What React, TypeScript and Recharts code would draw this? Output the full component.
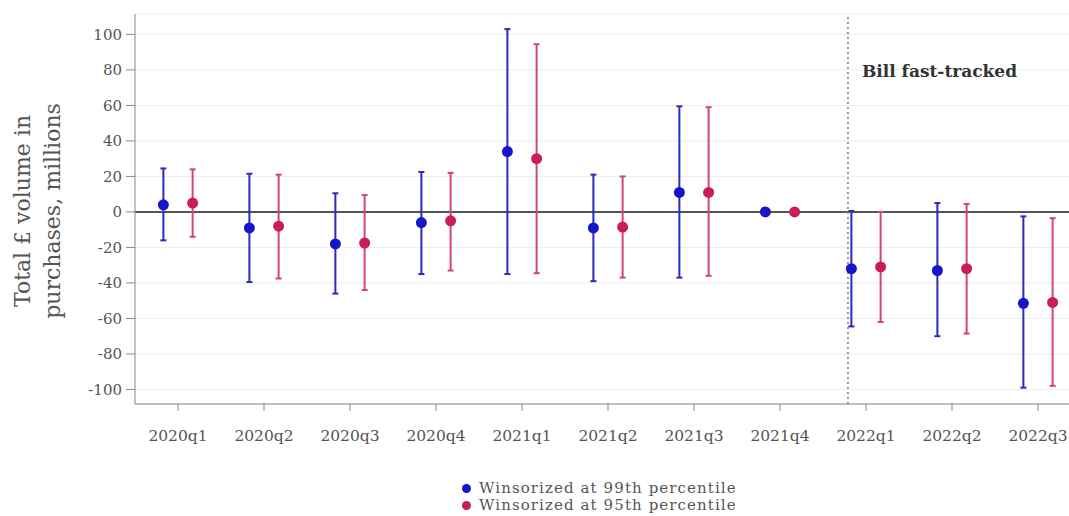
import React from "react";
import {
  ComposedChart,
  Scatter,
  ErrorBar,
  XAxis,
  YAxis,
  CartesianGrid,
  ReferenceLine,
} from "recharts";

// Quarterly estimates with 95% confidence bounds, two winsorization cut-offs
const quarters = [
  "2020q1", "2020q2", "2020q3", "2020q4",
  "2021q1", "2021q2", "2021q3", "2021q4",
  "2022q1", "2022q2", "2022q3",
];
const est99 = [4, -9, -18, -6, 34, -9, 11, 0, -32, -33, -51.5];
const lo99 = [-16, -39.5, -46, -35, -35, -39, -37, 0, -64.5, -70, -99];
const hi99 = [24.5, 21.5, 10.5, 22.5, 103, 21, 59.5, 0, 0.5, 5, -2.5];
const est95 = [5, -8, -17.5, -5, 30, -8.5, 11, 0, -31, -32, -51];
const lo95 = [-14, -37.5, -44, -33, -34.5, -37, -36, 0, -62, -68.5, -98];
const hi95 = [24, 21, 9.5, 22, 94.5, 20, 59, 0, 0, 4.5, -3.5];
const yTicks = [-100, -80, -60, -40, -20, 0, 20, 40, 60, 80, 100];
const billQuarter = 8.79; // fast-track date, just before 2022q1

const BLUE_DOT = "#1616c8";
const BLUE_BAR = "#2a2abf";
const RED_DOT = "#c81e52";
const RED_BAR = "#d24672";
const TEXT = "#555555";
const FONT = "'DejaVu Serif', serif";

const build = (est: number[], lo: number[], hi: number[], shift: number) =>
  est.map((v, i) => ({
    x: i + 1 + shift,
    y: v,
    err: [v - lo[i], hi[i] - v],
  }));

const series99 = build(est99, lo99, hi99, -0.17);
const series95 = build(est95, lo95, hi95, 0.17);

const dot = (color: string) => (props: any) =>
  <circle cx={props.cx} cy={props.cy} r={5.5} fill={color} />;

const YTitle = (props: any) => {
  const { viewBox } = props;
  const cx = viewBox.x + 39;
  const cy = viewBox.y + viewBox.height / 2 + 2;
  return (
    <text
      transform={`translate(${cx},${cy}) rotate(-90)`}
      textAnchor="middle"
      fontFamily={FONT}
      fontSize={22}
      fill={TEXT}
    >
      <tspan x={0} dy={-9}>Total £ volume in</tspan>
      <tspan x={0} dy={30}>purchases, millions</tspan>
    </text>
  );
};

const BillLabel = (props: any) => {
  const { viewBox } = props;
  return (
    <text
      x={viewBox.x + 14}
      y={viewBox.y + 63}
      fontFamily={FONT}
      fontSize={17}
      fontWeight="bold"
      fill="#333"
    >
      Bill fast-tracked
    </text>
  );
};

const legendItems = [
  { color: BLUE_DOT, label: "Winsorized at 99th percentile" },
  { color: RED_DOT, label: "Winsorized at 95th percentile" },
];

export default function App() {
  return (
    <div
      style={{
        position: "absolute",
        left: 0,
        top: 0,
        width: 1069,
        height: 516,
        overflow: "hidden",
        background: "#fff",
      }}
    >
      <ComposedChart
        width={1081}
        height={460}
        margin={{ top: 14, right: 0, left: 0, bottom: 0 }}
      >
        <CartesianGrid vertical={false} stroke="#ededed" />
        <XAxis
          type="number"
          dataKey="x"
          domain={[0.5, 11.5]}
          ticks={quarters.map((_, i) => i + 1)}
          tickFormatter={(v: number) => quarters[v - 1]}
          interval={0}
          height={56}
          stroke="#888"
          tickSize={7}
          tickMargin={19}
          tick={{ fontSize: 15.5, fill: TEXT, fontFamily: FONT }}
        />
        <YAxis
          type="number"
          domain={[-108.2, 111.5]}
          ticks={yTicks}
          interval={0}
          width={135}
          stroke="#888"
          tickSize={9}
          tickMargin={4}
          tick={{ fontSize: 15, fill: TEXT, fontFamily: FONT }}
          label={<YTitle />}
        />
        <ReferenceLine y={0} stroke="#555" strokeWidth={2} />
        <ReferenceLine
          x={billQuarter}
          stroke="#999"
          strokeWidth={2}
          strokeDasharray="2 3"
          label={<BillLabel />}
        />
        <Scatter
          data={series99}
          dataKey="y"
          shape={dot(BLUE_DOT)}
          isAnimationActive={false}
        >
          <ErrorBar
            dataKey="err"
            direction="y"
            width={3}
            strokeWidth={2}
            stroke={BLUE_BAR}
            isAnimationActive={false}
          />
        </Scatter>
        <Scatter
          data={series95}
          dataKey="y"
          shape={dot(RED_DOT)}
          isAnimationActive={false}
        >
          <ErrorBar
            dataKey="err"
            direction="y"
            width={3}
            strokeWidth={2}
            stroke={RED_BAR}
            isAnimationActive={false}
          />
        </Scatter>
      </ComposedChart>
      <div
        style={{
          position: "absolute",
          left: 462,
          top: 480,
          fontFamily: FONT,
          fontSize: 15,
          letterSpacing: 1.1,
          color: TEXT,
          lineHeight: "17px",
        }}
      >
        {legendItems.map((item) => (
          <div key={item.label} style={{ display: "flex", alignItems: "center" }}>
            <span
              style={{
                display: "inline-block",
                width: 9,
                height: 9,
                borderRadius: "50%",
                background: item.color,
                marginRight: 8,
              }}
            />
            {item.label}
          </div>
        ))}
      </div>
    </div>
  );
}
